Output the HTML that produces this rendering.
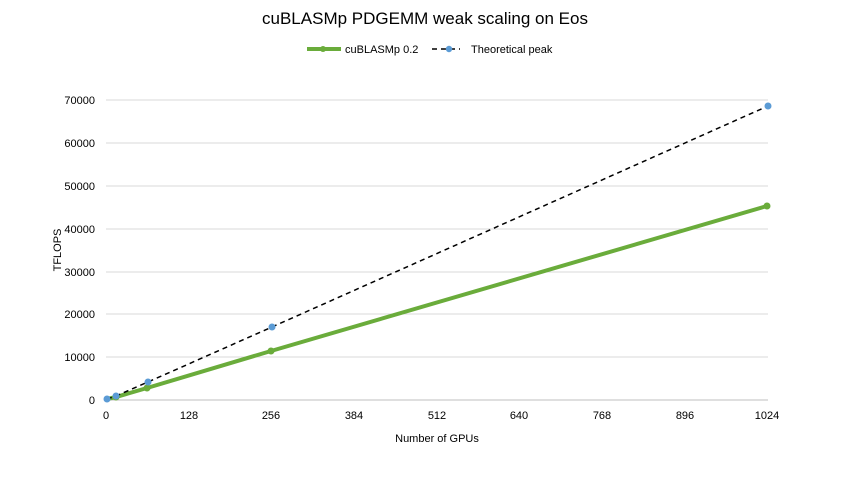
<!DOCTYPE html>
<html><head><style>body{margin:0;background:#fff}</style></head><body>
<svg width="850" height="478" xmlns="http://www.w3.org/2000/svg" font-family="Liberation Sans, sans-serif">
<rect width="850" height="478" fill="#fff"/>
<text x="425" y="24" text-anchor="middle" font-size="17" fill="#000">cuBLASMp PDGEMM weak scaling on Eos</text>
<line x1="307" y1="49" x2="341" y2="49" stroke="#6aac3b" stroke-width="4"/>
<circle cx="323" cy="49" r="3" fill="#6aac3b"/>
<text x="345" y="53" font-size="11">cuBLASMp 0.2</text>
<line x1="432" y1="49" x2="460" y2="49" stroke="#000" stroke-width="1.5" stroke-dasharray="5,4"/>
<circle cx="449" cy="49" r="3.2" fill="#5b9bd5"/>
<text x="471" y="53" font-size="11">Theoretical peak</text>
<g stroke="#d9d9d9" stroke-width="1">
<line x1="106" y1="357" x2="768" y2="357"/><line x1="106" y1="314" x2="768" y2="314"/>
<line x1="106" y1="272" x2="768" y2="272"/><line x1="106" y1="229" x2="768" y2="229"/>
<line x1="106" y1="186" x2="768" y2="186"/><line x1="106" y1="143" x2="768" y2="143"/>
<line x1="106" y1="100" x2="768" y2="100"/>
</g>
<line x1="106" y1="400" x2="768" y2="400" stroke="#bfbfbf"/>
<g font-size="11" text-anchor="end">
<text x="95" y="404">0</text><text x="95" y="361">10000</text><text x="95" y="318">20000</text>
<text x="95" y="276">30000</text><text x="95" y="233">40000</text><text x="95" y="190">50000</text>
<text x="95" y="147">60000</text><text x="95" y="104">70000</text>
</g>
<g font-size="11" text-anchor="middle">
<text x="106" y="419">0</text><text x="189" y="419">128</text><text x="271" y="419">256</text>
<text x="354" y="419">384</text><text x="437" y="419">512</text><text x="519" y="419">640</text>
<text x="602" y="419">768</text><text x="685" y="419">896</text><text x="767" y="419">1024</text>
</g>
<text x="437" y="442" text-anchor="middle" font-size="11">Number of GPUs</text>
<text transform="translate(61,250) rotate(-90)" text-anchor="middle" font-size="11">TFLOPS</text>
<polyline points="107,399 116,397 147,388 271,351 767,206" fill="none" stroke="#6aac3b" stroke-width="4"/>
<g fill="#6aac3b"><circle cx="116" cy="397" r="3.5"/><circle cx="147" cy="388" r="3.5"/><circle cx="271" cy="351" r="3.5"/><circle cx="767" cy="206" r="3.5"/></g>
<polyline points="107,399 116,396 148,382 272,327 768,106" fill="none" stroke="#000" stroke-width="1.5" stroke-dasharray="5,4"/>
<g fill="#5b9bd5"><circle cx="107" cy="399" r="3.5"/><circle cx="116" cy="396" r="3.5"/><circle cx="148" cy="382" r="3.5"/><circle cx="272" cy="327" r="3.5"/><circle cx="768" cy="106" r="3.5"/></g>
</svg>
</body></html>
